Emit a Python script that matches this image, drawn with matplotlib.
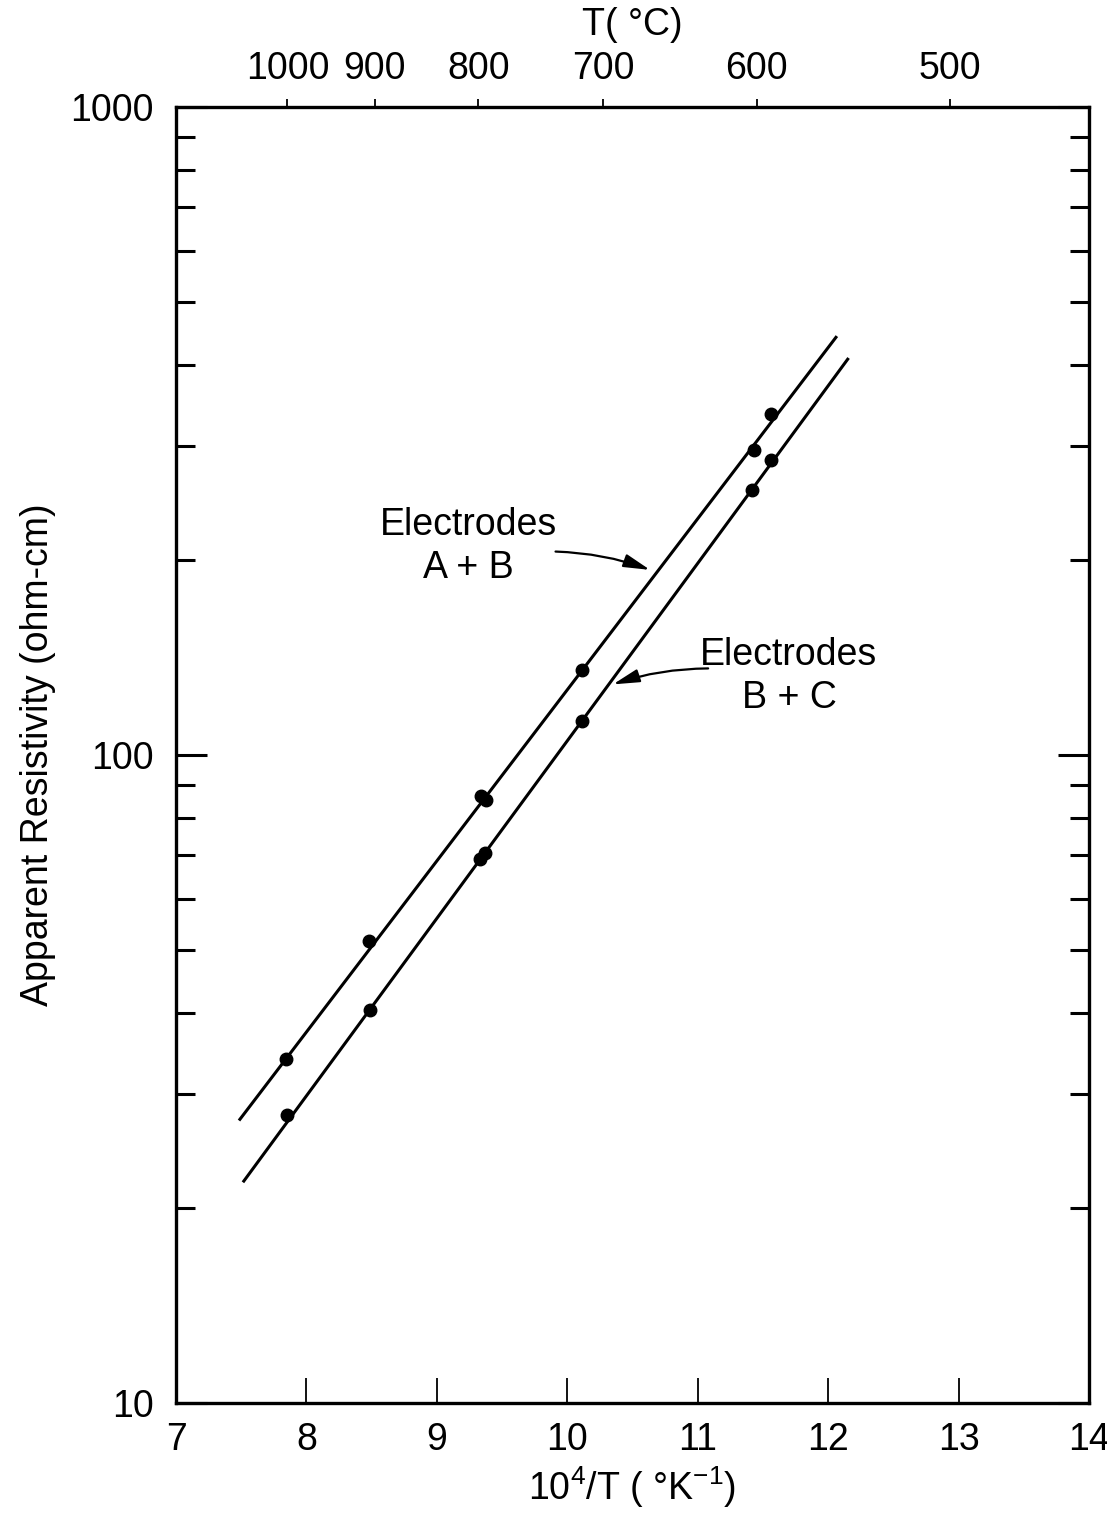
import numpy as np
import matplotlib.pyplot as plt
from matplotlib.ticker import FixedLocator, NullFormatter, FuncFormatter

plt.rcParams['font.family'] = ['Liberation Sans Narrow', 'Liberation Sans', 'DejaVu Sans']
plt.rcParams['mathtext.fontset'] = 'custom'
plt.rcParams['mathtext.rm'] = 'Liberation Sans'
plt.rcParams['mathtext.it'] = 'Liberation Sans'
plt.rcParams['mathtext.bf'] = 'Liberation Sans'

# measured points, electrodes A + B
x_ab = [7.84, 8.48, 9.34, 9.38, 10.11, 11.43, 11.56]
y_ab = [34.0, 51.6, 86.5, 85.3, 135, 296, 336]
# measured points, electrodes B + C
x_bc = [7.85, 8.49, 9.33, 9.37, 10.11, 11.42, 11.56]
y_bc = [27.8, 40.4, 69.0, 70.5, 113, 256, 285]

# fitted lines (end points)
fit_ab_x = [7.49, 12.06]
fit_ab_y = [27.4, 441]
fit_bc_x = [7.52, 12.15]
fit_bc_y = [22.0, 408]

temps_c = [1000, 900, 800, 700, 600, 500]
x_ticks = [7, 8, 9, 10, 11, 12, 13, 14]

fig = plt.figure(figsize=(11.07, 15.21), dpi=100)
ax = fig.add_axes([0.159, 0.0776, 0.8247, 0.8521])

ax.plot(fit_ab_x, fit_ab_y, 'k-', lw=2.2)
ax.plot(fit_bc_x, fit_bc_y, 'k-', lw=2.2)
ax.plot(x_ab, y_ab, 'ko', ms=9)
ax.plot(x_bc, y_bc, 'ko', ms=9)

ax.set_yscale('log')
ax.set_xlim(7, 14)
ax.set_ylim(10, 1000)
ax.set_xticks(x_ticks)
ax.yaxis.set_major_locator(FixedLocator([10, 100, 1000]))
ax.yaxis.set_major_formatter(FuncFormatter(lambda v, p: '%d' % v))
ax.yaxis.set_minor_formatter(NullFormatter())

for s in ax.spines.values():
    s.set_linewidth(2.4)

ax.tick_params(axis='x', which='major', direction='in', top=True, bottom=True,
               length=18, width=1.3, labelsize=27, pad=14)
ax.tick_params(axis='y', which='major', direction='in', left=True, right=True,
               length=22, width=2.2, labelsize=27, pad=16)
ax.tick_params(axis='y', which='minor', direction='in', left=True, right=True,
               length=14, width=2.2)

ax.set_xlabel('10$^{4}$/T ( °K$^{-1}$)', fontsize=27, labelpad=4)
ax.set_ylabel('Apparent Resistivity (ohm-cm)', fontsize=27, labelpad=10)

# top temperature scale
top = ax.twiny()
top.set_xlim(ax.get_xlim())
top.set_xticks([1e4 / (t + 273.15) for t in temps_c])
top.set_xticklabels([str(t) for t in temps_c])
top.tick_params(axis='x', direction='out', length=6, width=1.3, labelsize=27, pad=8)
for s in top.spines.values():
    s.set_visible(False)
top.set_xlabel('T( °C)', fontsize=27, labelpad=12)

ax.text(9.24, 210, 'Electrodes\nA + B', fontsize=27, ha='center', va='center',
        linespacing=1.25)
ax.text(11.7, 132, 'Electrodes\nB + C', fontsize=27, ha='center', va='center',
        linespacing=1.25)
arrow = dict(arrowstyle='-|>,head_length=0.8,head_width=0.2', color='k', lw=1.6,
             mutation_scale=20, shrinkA=0, shrinkB=0)
ax.annotate('', xy=(10.635, 193), xytext=(9.91, 206),
            arrowprops=dict(arrow, connectionstyle='arc3,rad=-0.08'))
ax.annotate('', xy=(10.35, 128.5), xytext=(11.08, 136),
            arrowprops=dict(arrow, connectionstyle='arc3,rad=0.08'))

fig.savefig('out.png', dpi=100)
